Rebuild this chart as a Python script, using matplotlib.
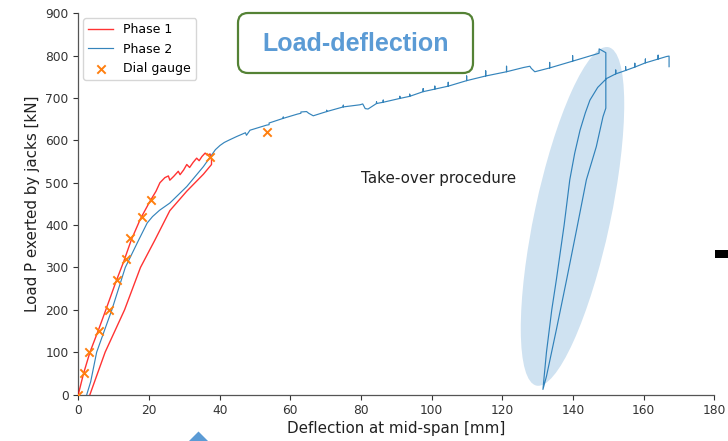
import matplotlib
matplotlib.use("Agg")
import matplotlib.pyplot as plt
from matplotlib.patches import Ellipse, FancyBboxPatch, Rectangle, Polygon

# ---------------- data ----------------
# Phase 1: loading then unloading
phase1_x = [0, 1.5, 3.3, 5.6, 7.8, 10.6, 12.9, 15.0, 17.6, 20.2, 22.0, 23.1, 24.5, 25.5,
            25.9, 27.0, 28.3, 28.8, 29.8, 30.7, 31.5, 32.5, 33.5, 34.2, 35.0, 35.9, 36.5,
            37.3, 37.7, 37.7, 35.4, 30.7, 25.9, 21.7, 17.6, 13.1, 7.6, 3.3]
phase1_y = [0, 50, 100, 150, 200, 265, 315, 365, 415, 455, 480, 500, 512, 516,
            506, 515, 527, 519, 530, 543, 536, 548, 558, 552, 562, 570, 565,
            568, 555, 543, 520, 480, 434, 365, 300, 200, 100, 0]

# Phase 2: loading up to the take-over, unloading, reloading
phase2_x = [2.4, 3.5, 5.2, 9.5, 13.3, 17.1, 19.5, 21.0, 23.0, 25.9, 30.7, 35.4, 37.7, 38.8,
            40.1, 41.3, 42.5, 44.8, 47.3, 47.6, 48.6, 53.3, 54.0, 54.0, 58.0, 58.0, 58.0, 62.0,
            63.0, 63.0, 64.6, 65.2, 66.5, 68.0, 70.3, 70.3, 70.3, 75.0, 75.0, 75.0, 79.7, 80.5,
            81.2, 82.0, 84.4, 84.4, 84.4, 86.3, 86.3, 86.3, 91.0, 91.0, 91.0, 93.8, 93.8, 93.8,
            97.6, 97.6, 97.6, 100.9, 100.9, 100.9, 104.7, 104.7, 104.7, 109.9, 109.9, 109.9,
            115.3, 115.3, 115.3, 121.2, 121.2, 121.2, 126.0, 127.8, 128.2, 129.2, 133.4, 133.4,
            133.4, 139.9, 139.9, 139.9, 147.1, 147.4, 147.4, 149.3,
            149.3, 148.5, 146.6, 143.8, 141.0, 138.2, 135.3, 132.5, 131.5,
            132.5, 134.0, 135.3, 137.5, 139.1, 140.5, 142.0, 143.5, 144.8, 147.0, 149.5,
            152.1, 152.1, 152.1, 154.9, 154.9, 154.9, 157.5, 157.5, 157.5, 160.5, 160.5, 160.5,
            164.1, 164.1, 164.1, 166.5, 167.2, 167.2]
phase2_y = [0, 30, 100, 200, 300, 365, 405, 420, 435, 452, 491, 538, 565, 578,
            588, 595, 600, 609, 618, 612, 624, 636, 637, 641, 652, 655, 652, 662,
            664, 667, 668, 664, 658, 662, 668, 671, 668, 679, 683, 679, 684, 686,
            675, 674, 687, 691, 687, 690, 695, 690, 699, 704, 699, 704, 709, 704,
            715, 722, 715, 721, 728, 721, 728, 737, 728, 741, 752, 741,
            752, 764, 752, 762, 775, 762, 772, 775, 770, 762, 771, 784,
            771, 787, 800, 787, 805, 806, 816, 807,
            676, 656, 585, 507, 388, 271, 153, 43, 12,
            100, 200, 271, 400, 507, 570, 624, 665, 695, 725, 746,
            757, 766, 757, 765, 774, 765, 773, 782, 773, 783, 792, 783,
            792, 801, 792, 798, 799, 774]

# Dial gauge readings
gauge_x = [0, 1.6, 3.0, 5.9, 8.7, 11.0, 13.4, 14.6, 17.9, 20.6, 37.3, 53.3]
gauge_y = [0, 50, 100, 150, 200, 270, 320, 370, 420, 460, 560, 620]

x_ticks = [0, 20, 40, 60, 80, 100, 120, 140, 160, 180]
y_ticks = [0, 100, 200, 300, 400, 500, 600, 700, 800, 900]

# ---------------- figure ----------------
W, H = 728, 441
fig = plt.figure(figsize=(W / 100, H / 100), dpi=100)
ax = fig.add_axes([78.3 / W, (H - 394.5) / H, (714.3 - 78.3) / W, (394.5 - 13.3) / H])

ax.plot(phase1_x, phase1_y, color="red", lw=1.0, alpha=0.8, label="Phase 1", zorder=3)
ax.plot(phase2_x, phase2_y, color="#1f77b4", lw=0.85, alpha=0.9, label="Phase 2", zorder=3)
ax.scatter(gauge_x, gauge_y, marker="x", color="#ff7f0e", s=36, lw=1.4,
           label="Dial gauge", zorder=4)

ax.set_xlim(0, 180)
ax.set_ylim(0, 900)
ax.set_xticks(x_ticks)
ax.set_yticks(y_ticks)
ax.tick_params(labelsize=8.8, colors="#333333", width=0.8)
for s in ("top", "right"):
    ax.spines[s].set_visible(False)
for s in ("left", "bottom"):
    ax.spines[s].set_color("#555555")
    ax.spines[s].set_linewidth(0.9)

ax.set_xlabel("Deflection at mid-span [mm]", fontsize=10.9, color="#222222", labelpad=3)
ax.set_ylabel("Load P exerted by jacks [kN]", fontsize=10.9, color="#222222")

ax.legend(loc="upper left", fontsize=9, frameon=True, borderaxespad=0.4)

ax.text(80, 511, "Take-over procedure", fontsize=10.9, color="#222222", va="center")

# highlight ellipse around the take-over procedure (pixel based)
ell = Ellipse((572.5 / 100, (H - 216.4) / 100), width=0.76, height=3.46, angle=-12,
              transform=fig.dpi_scale_trans, facecolor="#cfe2f1", edgecolor="none",
              zorder=1, clip_on=False)
ax.add_patch(ell)

# title box
box = FancyBboxPatch((2.38, (H - 73) / 100), 2.35, 0.60,
                     boxstyle="round,pad=0,rounding_size=0.1",
                     transform=fig.dpi_scale_trans, facecolor="white",
                     edgecolor="#548235", lw=1.6)
fig.add_artist(box)
fig.text(355.5 / W, (H - 44) / H, "Load-deflection", fontsize=18, fontweight="bold",
         color="#5b9bd5", family="Liberation Sans", ha="center", va="center")

# slide decorations
fig.add_artist(Rectangle((7.15, (H - 258) / 100), 0.13, 0.08,
                         transform=fig.dpi_scale_trans, facecolor="black", edgecolor="none"))
fig.add_artist(Polygon([(1.89, 0.0), (1.985, 0.095), (2.08, 0.0)], closed=True,
                       transform=fig.dpi_scale_trans, facecolor="#5b9bd5", edgecolor="none"))

fig.savefig("out.png", dpi=100)
